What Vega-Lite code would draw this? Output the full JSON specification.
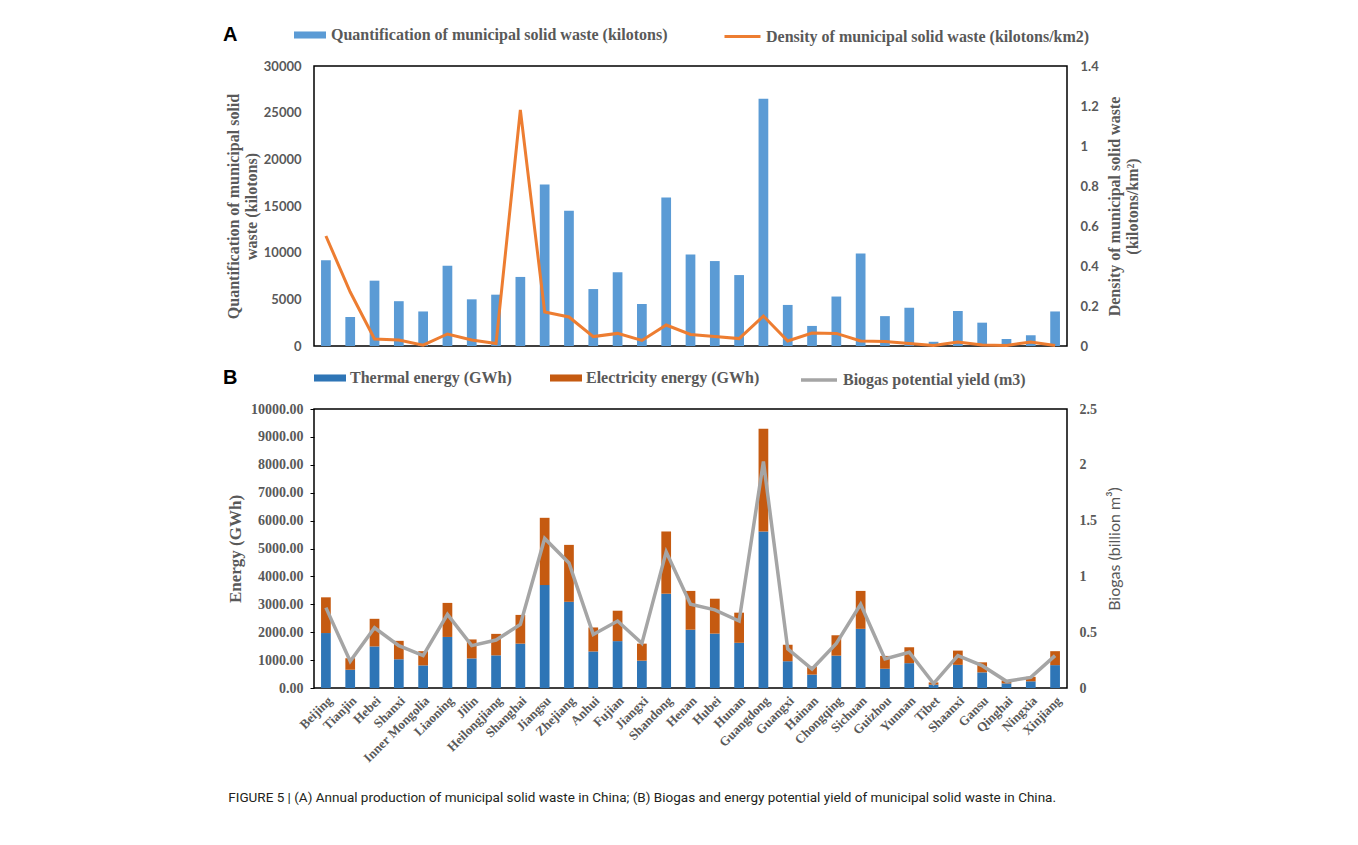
{
  "$schema": "https://vega.github.io/schema/vega-lite/v6.json",
  "padding": {"left": 222, "top": 16, "right": 10, "bottom": 10},
  "background": "white",
  "datasets": {
    "waste": [
      {"province": "Beijing", "waste": 9200, "density": 0.55},
      {"province": "Tianjin", "waste": 3100, "density": 0.27},
      {"province": "Hebei", "waste": 7000, "density": 0.035},
      {"province": "Shanxi", "waste": 4800, "density": 0.03},
      {"province": "Inner Mongolia", "waste": 3700, "density": 0.004},
      {"province": "Liaoning", "waste": 8600, "density": 0.06},
      {"province": "Jilin", "waste": 5000, "density": 0.03},
      {"province": "Heilongjiang", "waste": 5500, "density": 0.012},
      {"province": "Shanghai", "waste": 7400, "density": 1.18},
      {"province": "Jiangsu", "waste": 17300, "density": 0.17},
      {"province": "Zhejiang", "waste": 14500, "density": 0.145},
      {"province": "Anhui", "waste": 6100, "density": 0.047},
      {"province": "Fujian", "waste": 7900, "density": 0.063},
      {"province": "Jiangxi", "waste": 4500, "density": 0.028},
      {"province": "Shandong", "waste": 15900, "density": 0.105},
      {"province": "Henan", "waste": 9800, "density": 0.058},
      {"province": "Hubei", "waste": 9100, "density": 0.048},
      {"province": "Hunan", "waste": 7600, "density": 0.037},
      {"province": "Guangdong", "waste": 26500, "density": 0.15},
      {"province": "Guangxi", "waste": 4400, "density": 0.025},
      {"province": "Hainan", "waste": 2150, "density": 0.065},
      {"province": "Chongqing", "waste": 5300, "density": 0.063},
      {"province": "Sichuan", "waste": 9900, "density": 0.025},
      {"province": "Guizhou", "waste": 3200, "density": 0.022},
      {"province": "Yunnan", "waste": 4100, "density": 0.013},
      {"province": "Tibet", "waste": 450, "density": 0.002},
      {"province": "Shaanxi", "waste": 3750, "density": 0.02},
      {"province": "Gansu", "waste": 2500, "density": 0.005},
      {"province": "Qinghai", "waste": 750, "density": 0.003},
      {"province": "Ningxia", "waste": 1150, "density": 0.02},
      {"province": "Xinjiang", "waste": 3700, "density": 0.003}
    ],
    "energy": [
      {"province": "Beijing", "series": "Thermal energy (GWh)", "energy": 1970},
      {"province": "Beijing", "series": "Electricity energy (GWh)", "energy": 1280},
      {"province": "Tianjin", "series": "Thermal energy (GWh)", "energy": 650},
      {"province": "Tianjin", "series": "Electricity energy (GWh)", "energy": 420},
      {"province": "Hebei", "series": "Thermal energy (GWh)", "energy": 1490},
      {"province": "Hebei", "series": "Electricity energy (GWh)", "energy": 990},
      {"province": "Shanxi", "series": "Thermal energy (GWh)", "energy": 1030},
      {"province": "Shanxi", "series": "Electricity energy (GWh)", "energy": 660},
      {"province": "Inner Mongolia", "series": "Thermal energy (GWh)", "energy": 810},
      {"province": "Inner Mongolia", "series": "Electricity energy (GWh)", "energy": 510},
      {"province": "Liaoning", "series": "Thermal energy (GWh)", "energy": 1830},
      {"province": "Liaoning", "series": "Electricity energy (GWh)", "energy": 1220},
      {"province": "Jilin", "series": "Thermal energy (GWh)", "energy": 1060},
      {"province": "Jilin", "series": "Electricity energy (GWh)", "energy": 680},
      {"province": "Heilongjiang", "series": "Thermal energy (GWh)", "energy": 1170},
      {"province": "Heilongjiang", "series": "Electricity energy (GWh)", "energy": 770},
      {"province": "Shanghai", "series": "Thermal energy (GWh)", "energy": 1590},
      {"province": "Shanghai", "series": "Electricity energy (GWh)", "energy": 1030},
      {"province": "Jiangsu", "series": "Thermal energy (GWh)", "energy": 3690},
      {"province": "Jiangsu", "series": "Electricity energy (GWh)", "energy": 2410},
      {"province": "Zhejiang", "series": "Thermal energy (GWh)", "energy": 3090},
      {"province": "Zhejiang", "series": "Electricity energy (GWh)", "energy": 2040},
      {"province": "Anhui", "series": "Thermal energy (GWh)", "energy": 1310},
      {"province": "Anhui", "series": "Electricity energy (GWh)", "energy": 860},
      {"province": "Fujian", "series": "Thermal energy (GWh)", "energy": 1680},
      {"province": "Fujian", "series": "Electricity energy (GWh)", "energy": 1090},
      {"province": "Jiangxi", "series": "Thermal energy (GWh)", "energy": 980},
      {"province": "Jiangxi", "series": "Electricity energy (GWh)", "energy": 610},
      {"province": "Shandong", "series": "Thermal energy (GWh)", "energy": 3380},
      {"province": "Shandong", "series": "Electricity energy (GWh)", "energy": 2230},
      {"province": "Henan", "series": "Thermal energy (GWh)", "energy": 2090},
      {"province": "Henan", "series": "Electricity energy (GWh)", "energy": 1390},
      {"province": "Hubei", "series": "Thermal energy (GWh)", "energy": 1950},
      {"province": "Hubei", "series": "Electricity energy (GWh)", "energy": 1250},
      {"province": "Hunan", "series": "Thermal energy (GWh)", "energy": 1620},
      {"province": "Hunan", "series": "Electricity energy (GWh)", "energy": 1080},
      {"province": "Guangdong", "series": "Thermal energy (GWh)", "energy": 5610},
      {"province": "Guangdong", "series": "Electricity energy (GWh)", "energy": 3680},
      {"province": "Guangxi", "series": "Thermal energy (GWh)", "energy": 960},
      {"province": "Guangxi", "series": "Electricity energy (GWh)", "energy": 590},
      {"province": "Hainan", "series": "Thermal energy (GWh)", "energy": 480},
      {"province": "Hainan", "series": "Electricity energy (GWh)", "energy": 290},
      {"province": "Chongqing", "series": "Thermal energy (GWh)", "energy": 1160},
      {"province": "Chongqing", "series": "Electricity energy (GWh)", "energy": 730},
      {"province": "Sichuan", "series": "Thermal energy (GWh)", "energy": 2120},
      {"province": "Sichuan", "series": "Electricity energy (GWh)", "energy": 1360},
      {"province": "Guizhou", "series": "Thermal energy (GWh)", "energy": 690},
      {"province": "Guizhou", "series": "Electricity energy (GWh)", "energy": 460},
      {"province": "Yunnan", "series": "Thermal energy (GWh)", "energy": 890},
      {"province": "Yunnan", "series": "Electricity energy (GWh)", "energy": 570},
      {"province": "Tibet", "series": "Thermal energy (GWh)", "energy": 120},
      {"province": "Tibet", "series": "Electricity energy (GWh)", "energy": 80},
      {"province": "Shaanxi", "series": "Thermal energy (GWh)", "energy": 830},
      {"province": "Shaanxi", "series": "Electricity energy (GWh)", "energy": 510},
      {"province": "Gansu", "series": "Thermal energy (GWh)", "energy": 560},
      {"province": "Gansu", "series": "Electricity energy (GWh)", "energy": 360},
      {"province": "Qinghai", "series": "Thermal energy (GWh)", "energy": 165},
      {"province": "Qinghai", "series": "Electricity energy (GWh)", "energy": 105},
      {"province": "Ningxia", "series": "Thermal energy (GWh)", "energy": 240},
      {"province": "Ningxia", "series": "Electricity energy (GWh)", "energy": 160},
      {"province": "Xinjiang", "series": "Thermal energy (GWh)", "energy": 820},
      {"province": "Xinjiang", "series": "Electricity energy (GWh)", "energy": 500}
    ],
    "biogas": [
      {"province": "Beijing", "biogas": 0.72},
      {"province": "Tianjin", "biogas": 0.24},
      {"province": "Hebei", "biogas": 0.54},
      {"province": "Shanxi", "biogas": 0.38},
      {"province": "Inner Mongolia", "biogas": 0.29},
      {"province": "Liaoning", "biogas": 0.66},
      {"province": "Jilin", "biogas": 0.38},
      {"province": "Heilongjiang", "biogas": 0.43},
      {"province": "Shanghai", "biogas": 0.57},
      {"province": "Jiangsu", "biogas": 1.34},
      {"province": "Zhejiang", "biogas": 1.12},
      {"province": "Anhui", "biogas": 0.48},
      {"province": "Fujian", "biogas": 0.6},
      {"province": "Jiangxi", "biogas": 0.4},
      {"province": "Shandong", "biogas": 1.22},
      {"province": "Henan", "biogas": 0.75},
      {"province": "Hubei", "biogas": 0.7},
      {"province": "Hunan", "biogas": 0.6},
      {"province": "Guangdong", "biogas": 2.03},
      {"province": "Guangxi", "biogas": 0.35},
      {"province": "Hainan", "biogas": 0.17},
      {"province": "Chongqing", "biogas": 0.4},
      {"province": "Sichuan", "biogas": 0.75},
      {"province": "Guizhou", "biogas": 0.26},
      {"province": "Yunnan", "biogas": 0.32},
      {"province": "Tibet", "biogas": 0.04},
      {"province": "Shaanxi", "biogas": 0.29},
      {"province": "Gansu", "biogas": 0.2},
      {"province": "Qinghai", "biogas": 0.06},
      {"province": "Ningxia", "biogas": 0.095},
      {"province": "Xinjiang", "biogas": 0.29}
    ]
  },
  "title": {
    "text": "FIGURE 5 | (A) Annual production of municipal solid waste in China; (B) Biogas and energy potential yield of municipal solid waste in China.",
    "orient": "bottom",
    "anchor": "start",
    "frame": "bounds",
    "font": "Roboto, sans-serif",
    "fontSize": 13.5,
    "fontWeight": "normal",
    "color": "#231f20",
    "offset": 26,
    "dx": 6
  },
  "spacing": 5,
  "config": {
    "view": {"stroke": "black", "strokeWidth": 1.5},
    "axis": {"grid": false, "labelColor": "#595959", "titleColor": "#595959"},
    "legend": {"padding": 0, "labelLimit": 600}
  },
  "vconcat": [
    {
      "width": 753,
      "height": 280,
      "title": {
        "text": "A",
        "anchor": "start",
        "frame": "group",
        "font": "Liberation Sans",
        "fontSize": 20,
        "fontWeight": "bold",
        "color": "black",
        "baseline": "alphabetic",
        "offset": 0,
        "dx": -91,
        "dy": 44
      },
      "resolve": {"scale": {"y": "independent", "color": "independent"}},
      "layer": [
        {
          "data": {"name": "waste"},
          "mark": {"type": "bar", "color": "#5B9BD5"},
          "encoding": {
            "x": {
              "field": "province",
              "type": "nominal",
              "sort": null,
              "scale": {"paddingInner": 0.6, "paddingOuter": 0.29},
              "axis": null
            },
            "y": {
              "field": "waste",
              "type": "quantitative",
              "scale": {"domain": [0, 30000], "nice": false},
              "axis": {
                "title": ["Quantification of municipal solid", "waste (kilotons)"],
                "values": [0, 5000, 10000, 15000, 20000, 25000, 30000],
                "format": "d",
                "labelFont": "Lato",
                "labelFontSize": 13,
                "labelFontWeight": "bold",
                "labelPadding": 13,
                "ticks": false,
                "domain": false,
                "titleFont": "Liberation Serif",
                "titleFontSize": 16,
                "titleFontWeight": "bold",
                "titlePadding": 4
              }
            },
            "color": {
              "datum": "Quantification of municipal solid waste (kilotons)",
              "scale": {"range": ["#5B9BD5"]},
              "legend": {
                "orient": "none",
                "legendX": -20,
                "legendY": -47,
                "title": null,
                "symbolType": "M-1,-0.22H1V0.22H-1Z",
                "symbolSize": 1024,
                "symbolStrokeWidth": 0,
                "symbolOpacity": 1,
                "labelFont": "Liberation Serif",
                "labelFontSize": 16,
                "labelFontWeight": "bold",
                "labelColor": "#595959",
                "labelOffset": 5
              }
            }
          }
        },
        {
          "data": {"name": "waste"},
          "mark": {"type": "line", "color": "#ED7D31", "strokeWidth": 3},
          "encoding": {
            "x": {"field": "province", "type": "nominal", "sort": null, "axis": null},
            "y": {
              "field": "density",
              "type": "quantitative",
              "scale": {"domain": [0, 1.4], "nice": false},
              "axis": {
                "orient": "right",
                "title": ["Density of municipal solid waste", "(kilotons/km²)"],
                "values": [0, 0.2, 0.4, 0.6, 0.8, 1, 1.2, 1.4],
                "format": "~g",
                "labelFont": "Lato",
                "labelFontSize": 13,
                "labelFontWeight": "bold",
                "labelPadding": 13,
                "ticks": false,
                "domain": false,
                "titleFont": "Liberation Serif",
                "titleFontSize": 16,
                "titleFontWeight": "bold",
                "titleAngle": -90,
                "titlePadding": 6
              }
            },
            "color": {
              "datum": "Density of municipal solid waste (kilotons/km2)",
              "scale": {"range": ["#ED7D31"]},
              "legend": {
                "orient": "none",
                "legendX": 409,
                "legendY": -49,
                "title": null,
                "symbolType": "stroke",
                "symbolSize": 1296,
                "symbolStrokeWidth": 3,
                "labelFont": "Liberation Serif",
                "labelFontSize": 16,
                "labelFontWeight": "bold",
                "labelColor": "#595959",
                "labelOffset": 4
              }
            }
          }
        }
      ]
    },
    {
      "width": 753,
      "height": 279,
      "title": {
        "text": "B",
        "anchor": "start",
        "frame": "group",
        "font": "Liberation Sans",
        "fontSize": 20,
        "fontWeight": "bold",
        "color": "black",
        "baseline": "alphabetic",
        "offset": 0,
        "dx": -91,
        "dy": 44
      },
      "resolve": {"scale": {"y": "independent", "color": "independent"}},
      "layer": [
        {
          "data": {"name": "energy"},
          "mark": {"type": "bar"},
          "encoding": {
            "x": {
              "field": "province",
              "type": "nominal",
              "sort": null,
              "scale": {"paddingInner": 0.6, "paddingOuter": 0.29},
              "axis": {
                "title": null,
                "labelAngle": -45,
                "labelFont": "Liberation Serif",
                "labelFontSize": 13,
                "labelFontWeight": "bold",
                "labelPadding": 6,
                "ticks": false,
                "domain": false
              }
            },
            "y": {
              "field": "energy",
              "type": "quantitative",
              "stack": "zero",
              "scale": {"domain": [0, 10000], "nice": false},
              "axis": {
                "title": "Energy (GWh)",
                "values": [0, 1000, 2000, 3000, 4000, 5000, 6000, 7000, 8000, 9000, 10000],
                "format": ".2f",
                "labelFont": "Liberation Serif",
                "labelFontSize": 14,
                "labelFontWeight": "bold",
                "labelPadding": 7,
                "ticks": true,
                "tickSize": 4,
                "tickColor": "black",
                "domain": false,
                "titleFont": "Liberation Serif",
                "titleFontSize": 17,
                "titleFontWeight": "bold",
                "titlePadding": 6
              }
            },
            "order": {"field": "series", "sort": "descending"},
            "color": {
              "field": "series",
              "type": "nominal",
              "scale": {
                "domain": ["Thermal energy (GWh)", "Electricity energy (GWh)"],
                "range": ["#2E75B6", "#C55A11"]
              },
              "legend": {
                "orient": "none",
                "legendX": 0,
                "legendY": -47,
                "direction": "horizontal",
                "columns": 2,
                "columnPadding": 38,
                "title": null,
                "symbolType": "M-1,-0.22H1V0.22H-1Z",
                "symbolSize": 1024,
                "symbolStrokeWidth": 0,
                "symbolOpacity": 1,
                "labelFont": "Liberation Serif",
                "labelFontSize": 16,
                "labelFontWeight": "bold",
                "labelColor": "#595959",
                "labelOffset": 4
              }
            }
          }
        },
        {
          "data": {"name": "biogas"},
          "mark": {"type": "line", "color": "#A5A5A5", "strokeWidth": 3.5},
          "encoding": {
            "x": {"field": "province", "type": "nominal", "sort": null},
            "y": {
              "field": "biogas",
              "type": "quantitative",
              "scale": {"domain": [0, 2.5], "nice": false},
              "axis": {
                "orient": "right",
                "title": "Biogas (billion m³)",
                "values": [0, 0.5, 1, 1.5, 2, 2.5],
                "format": "~g",
                "labelFont": "Liberation Serif",
                "labelFontSize": 14,
                "labelFontWeight": "bold",
                "labelPadding": 12,
                "ticks": false,
                "domain": false,
                "titleFont": "Lato",
                "titleFontSize": 16,
                "titleFontWeight": "normal",
                "titleAngle": -90,
                "titlePadding": 26
              }
            },
            "color": {
              "datum": "Biogas potential yield (m3)",
              "scale": {"range": ["#A5A5A5"]},
              "legend": {
                "orient": "none",
                "legendX": 485,
                "legendY": -49,
                "title": null,
                "symbolType": "stroke",
                "symbolSize": 1296,
                "symbolStrokeWidth": 3.5,
                "labelFont": "Liberation Serif",
                "labelFontSize": 16,
                "labelFontWeight": "bold",
                "labelColor": "#595959",
                "labelOffset": 4
              }
            }
          }
        }
      ]
    }
  ]
}
